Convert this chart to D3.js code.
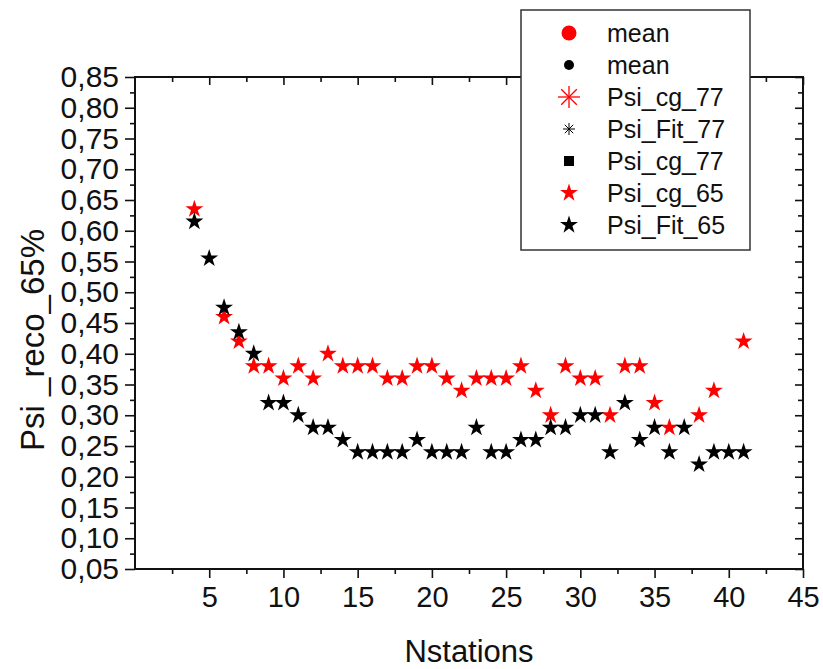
<!DOCTYPE html>
<html>
<head>
<meta charset="utf-8">
<script src="https://cdnjs.cloudflare.com/ajax/libs/d3/7.8.5/d3.min.js"></script>
<style>
  body { margin: 0; background: #fff; }
  svg { font-family: Arial, "Liberation Sans", sans-serif; }
</style>
</head>
<body>
<svg id="scatter"></svg>
<script>
// Psi_cg_65 (red stars)
let cgStations = [4, 6, 7, 8, 9, 10, 11, 12, 13, 14, 15, 16, 17, 18, 19, 20, 21, 22, 23, 24, 25,
  26, 27, 28, 29, 30, 31, 32, 33, 34, 35, 36, 38, 39, 41];
let cgValues = [0.635, 0.46, 0.42, 0.38, 0.38, 0.36, 0.38, 0.36, 0.40, 0.38, 0.38, 0.38, 0.36, 0.36, 0.38, 0.38, 0.36, 0.34, 0.36, 0.36, 0.36,
  0.38, 0.34, 0.30, 0.38, 0.36, 0.36, 0.30, 0.38, 0.38, 0.32, 0.28, 0.30, 0.34, 0.42];

// Psi_Fit_65 (black stars)
let fitStations = [4, 5, 6, 7, 8, 9, 10, 11, 12, 13, 14, 15, 16, 17, 18, 19, 20, 21, 22, 23, 24, 25,
  26, 27, 28, 29, 30, 31, 32, 33, 34, 35, 36, 37, 38, 39, 40, 41];
let fitValues = [0.615, 0.555, 0.475, 0.435, 0.40, 0.32, 0.32, 0.30, 0.28, 0.28, 0.26, 0.24, 0.24, 0.24, 0.24, 0.26, 0.24, 0.24, 0.24, 0.28, 0.24, 0.24,
  0.26, 0.26, 0.28, 0.28, 0.30, 0.30, 0.24, 0.32, 0.26, 0.28, 0.24, 0.28, 0.22, 0.24, 0.24, 0.24];

// axis ticks
let xTicks = [5, 10, 15, 20, 25, 30, 35, 40, 45];
let xMinorTicks = [2.5, 7.5, 12.5, 17.5, 22.5, 27.5, 32.5, 37.5, 42.5];
let yTicks = [0.05, 0.10, 0.15, 0.20, 0.25, 0.30, 0.35, 0.40, 0.45, 0.50, 0.55, 0.60, 0.65, 0.70, 0.75, 0.80, 0.85];
let yMinorTicks = [0.075, 0.125, 0.175, 0.225, 0.275, 0.325, 0.375, 0.425, 0.475, 0.525, 0.575, 0.625, 0.675, 0.725, 0.775, 0.825];

// legend entries (as shown in the original, including duplicates)
let legendLabels = ['mean', 'mean', 'Psi_cg_77', 'Psi_Fit_77', 'Psi_cg_77', 'Psi_cg_65', 'Psi_Fit_65'];
let legendKinds = ['bigCircle', 'circle', 'bigAsterisk', 'asterisk', 'square', 'star', 'star'];
let legendColors = ['#ff0000', '#000000', '#ff0000', '#000000', '#000000', '#ff0000', '#000000'];

let config = { svg: {}, margin: {}, plot: {} };
config.svg.width = 823;
config.svg.height = 669;
config.margin.top = 77;
config.margin.left = 135;
config.margin.right = 20;
config.margin.bottom = 100;
config.plot.width = config.svg.width - config.margin.left - config.margin.right;
config.plot.height = config.svg.height - config.margin.top - config.margin.bottom;

let svg = d3.select('#scatter')
  .attr('width', config.svg.width)
  .attr('height', config.svg.height);

let xScale = d3.scaleLinear().domain([0, 45]).range([0, config.plot.width]);
let yScale = d3.scaleLinear().domain([0.05, 0.85]).range([config.plot.height, 0]);

let plot = svg.append('g').attr('transform', translate(config.margin.left, config.margin.top));

let commaFormat = d => d3.format('.2f')(d).replace('.', ',');

// bottom axis
let xGroup = plot.append('g').attr('transform', translate(0, config.plot.height))
  .call(d3.axisBottom(xScale).tickValues(xTicks).tickSize(9).tickPadding(8).tickFormat(d3.format('d')));
plot.append('g').attr('transform', translate(0, config.plot.height))
  .call(d3.axisBottom(xScale).tickValues(xMinorTicks).tickSize(5).tickFormat(''));

// left axis
let yGroup = plot.append('g')
  .call(d3.axisLeft(yScale).tickValues(yTicks).tickSize(10).tickPadding(6).tickFormat(commaFormat));
plot.append('g')
  .call(d3.axisLeft(yScale).tickValues(yMinorTicks).tickSize(5).tickFormat(''));

// top & right mirror ticks (inward)
plot.append('g')
  .call(d3.axisBottom(xScale).tickValues(xTicks).tickSize(8).tickFormat(''));
plot.append('g')
  .call(d3.axisBottom(xScale).tickValues(xMinorTicks).tickSize(5).tickFormat(''));
plot.append('g').attr('transform', translate(config.plot.width, 0))
  .call(d3.axisLeft(yScale).tickValues(yTicks).tickSize(8).tickFormat(''));
plot.append('g').attr('transform', translate(config.plot.width, 0))
  .call(d3.axisLeft(yScale).tickValues(yMinorTicks).tickSize(5).tickFormat(''));

plot.selectAll('.domain').remove();
plot.selectAll('.tick line').attr('stroke', '#111').attr('stroke-width', 1.6);
xGroup.selectAll('text').attr('font-size', 29).attr('fill', '#111').attr('font-family', 'Arial, "Liberation Sans", sans-serif');
yGroup.selectAll('text').attr('font-size', 30).attr('fill', '#111').attr('font-family', 'Arial, "Liberation Sans", sans-serif');

// frame
plot.append('rect')
  .attr('width', config.plot.width)
  .attr('height', config.plot.height)
  .attr('fill', 'none')
  .attr('stroke', '#111')
  .attr('stroke-width', 2);

// stars
let star = d3.symbol().type(d3.symbolStar).size(100);

plot.selectAll('.cg')
  .data(cgStations.map((s, i) => ({ s: s, v: cgValues[i] })))
  .join('path')
  .attr('class', 'cg')
  .attr('d', star)
  .attr('fill', '#ff0000')
  .attr('transform', d => translate(xScale(d.s), yScale(d.v)));

plot.selectAll('.fit')
  .data(fitStations.map((s, i) => ({ s: s, v: fitValues[i] })))
  .join('path')
  .attr('class', 'fit')
  .attr('d', star)
  .attr('fill', '#000')
  .attr('transform', d => translate(xScale(d.s), yScale(d.v)));

// axis titles
svg.append('text')
  .attr('x', config.margin.left + config.plot.width / 2)
  .attr('y', 662)
  .attr('text-anchor', 'middle')
  .attr('font-size', 31)
  .attr('fill', '#111')
  .text('Nstations');

svg.append('text')
  .attr('transform', 'translate(44,340) rotate(-90)')
  .attr('text-anchor', 'middle')
  .attr('font-size', 33)
  .attr('fill', '#111')
  .text('Psi _reco_65%');

// legend
let legend = svg.append('g').attr('transform', translate(521, 10));
legend.append('rect')
  .attr('width', 229)
  .attr('height', 240)
  .attr('fill', '#fff')
  .attr('stroke', '#333')
  .attr('stroke-width', 1.5);

let rows = legend.selectAll('.row')
  .data(legendLabels.map((l, i) => ({ label: l, kind: legendKinds[i], color: legendColors[i] })))
  .join('g')
  .attr('class', 'row')
  .attr('transform', (d, i) => translate(48, 23 + i * 32));

rows.each(function(d) {
  let g = d3.select(this);
  if (d.kind === 'bigCircle') {
    g.append('circle').attr('r', 7.5).attr('fill', d.color);
  } else if (d.kind === 'circle') {
    g.append('circle').attr('r', 5).attr('fill', d.color);
  } else if (d.kind === 'square') {
    g.append('rect').attr('x', -5).attr('y', -5).attr('width', 10).attr('height', 10).attr('fill', d.color);
  } else if (d.kind === 'star') {
    g.append('path').attr('d', star).attr('fill', d.color);
  } else {
    let r = d.kind === 'bigAsterisk' ? 11 : 6;
    let sw = d.kind === 'bigAsterisk' ? 1.3 : 1;
    [0, 45, 90, 135].forEach(a => {
      let rad = a * Math.PI / 180;
      g.append('line')
        .attr('x1', -r * Math.cos(rad)).attr('y1', -r * Math.sin(rad))
        .attr('x2', r * Math.cos(rad)).attr('y2', r * Math.sin(rad))
        .attr('stroke', d.color).attr('stroke-width', sw);
    });
  }
  g.append('text')
    .attr('x', 38)
    .attr('dy', '0.35em')
    .attr('font-size', 25)
    .attr('fill', '#111')
    .text(d.label);
});

function translate(x, y) {
  return 'translate(' + x + ',' + y + ')';
}
</script>
</body>
</html>
